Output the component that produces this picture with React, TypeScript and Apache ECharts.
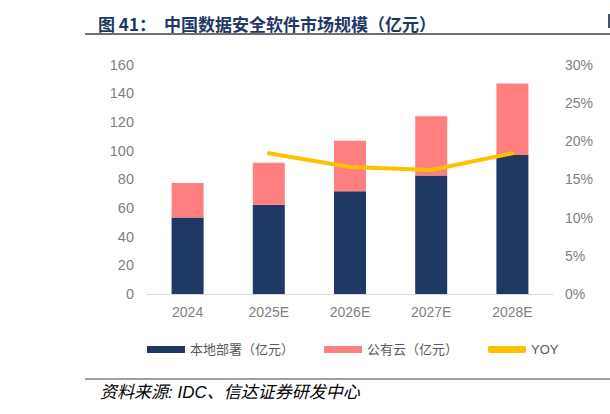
import React, { useEffect, useRef } from "react";
import * as echarts from "echarts";

// 中国数据安全软件市场规模（亿元）
const categories = ["2024", "2025E", "2026E", "2027E", "2028E"];
const onPremise = [53.3, 62.2, 71.7, 82.7, 96.9]; // 本地部署
const publicCloud = [24.0, 29.3, 35.2, 41.2, 49.8]; // 公有云
const yoy = [null, 18.4, 16.6, 16.2, 18.4]; // YOY, %

const leftTicks = { min: 0, max: 160, interval: 20 };
const rightTicks = { min: 0, max: 30, interval: 5 };

const figureNo = "图 41：";
const title = "中国数据安全软件市场规模（亿元）";
const source = "资料来源: IDC、信达证券研发中心";

const NAVY = "#1f3864";
const PINK = "#ff7f7f";
const GOLD = "#ffc000";
const GRAY = "#7f7f7f";

const cjk = "'Liberation Sans', 'Noto Sans CJK SC', sans-serif";

const App = () => {
	const chartRef = useRef<HTMLDivElement>(null);

	useEffect(() => {
		document.body.style.margin = "0";
		if (!chartRef.current) return;
		const chart = echarts.init(chartRef.current, null, { renderer: "svg" });

		const titleStyle = {
			fontSize: 17,
			fontWeight: "bold",
			fontFamily: "'Noto Sans CJK SC', sans-serif",
			fill: "#203864",
			verticalAlign: "middle",
		};

		chart.setOption({
			animation: false,
			grid: { left: 147, right: 57, top: 64.5, bottom: 120 },
			legend: {
				left: 142,
				top: 338,
				itemWidth: 38,
				itemHeight: 7,
				itemGap: 30,
				textStyle: { color: "#595959", fontSize: 13, fontFamily: cjk },
				data: [
					{ name: "本地部署（亿元）", icon: "rect" },
					{ name: "公有云（亿元）", icon: "rect" },
					{ name: "YOY", icon: "roundRect" },
				],
			},
			xAxis: {
				type: "category",
				data: categories,
				axisLine: { lineStyle: { color: "#d9d9d9", width: 1 } },
				axisTick: { show: false },
				axisLabel: { color: GRAY, fontSize: 14, fontFamily: cjk, margin: 11 },
			},
			yAxis: [
				{
					type: "value",
					...leftTicks,
					splitLine: { show: false },
					axisLine: { show: false },
					axisTick: { show: false },
					axisLabel: { color: GRAY, fontSize: 14.5, fontFamily: cjk, margin: 13 },
				},
				{
					type: "value",
					...rightTicks,
					splitLine: { show: false },
					axisLine: { show: false },
					axisTick: { show: false },
					axisLabel: { color: GRAY, fontSize: 14, fontFamily: cjk, margin: 12, formatter: "{value}%" },
				},
			],
			series: [
				{
					name: "本地部署（亿元）",
					type: "bar",
					stack: "total",
					barWidth: 32,
					itemStyle: { color: NAVY },
					data: onPremise,
				},
				{
					name: "公有云（亿元）",
					type: "bar",
					stack: "total",
					barWidth: 32,
					itemStyle: { color: PINK },
					data: publicCloud,
				},
				{
					name: "YOY",
					type: "line",
					yAxisIndex: 1,
					symbol: "none",
					lineStyle: { color: GOLD, width: 4, cap: "round", join: "round" },
					itemStyle: { color: GOLD },
					data: yoy,
				},
			],
			graphic: [
				{ type: "text", x: 98, y: 23, style: { ...titleStyle, text: figureNo } },
				{ type: "text", x: 164, y: 23, style: { ...titleStyle, text: title } },
				{
					type: "line",
					shape: { x1: 85, y1: 34, x2: 610, y2: 34 },
					style: { stroke: "#404040", lineWidth: 1.5 },
				},
				{
					type: "rect",
					shape: { x: 608, y: 14, width: 2, height: 14 },
					style: { fill: "#44546a" },
				},
				{
					type: "line",
					shape: { x1: 85, y1: 379, x2: 610, y2: 379 },
					style: { stroke: "#808080", lineWidth: 1.5 },
				},
				{
					type: "text",
					x: 100,
					y: 392,
					style: {
						text: source,
						fontSize: 17,
						fontStyle: "italic",
						fontFamily: cjk,
						fill: "#000",
						verticalAlign: "middle",
					},
				},
			],
		});

		return () => {
			chart.dispose();
		};
	}, []);

	return <div ref={chartRef} style={{ width: "610px", height: "414px" }} />;
};

export default App;
